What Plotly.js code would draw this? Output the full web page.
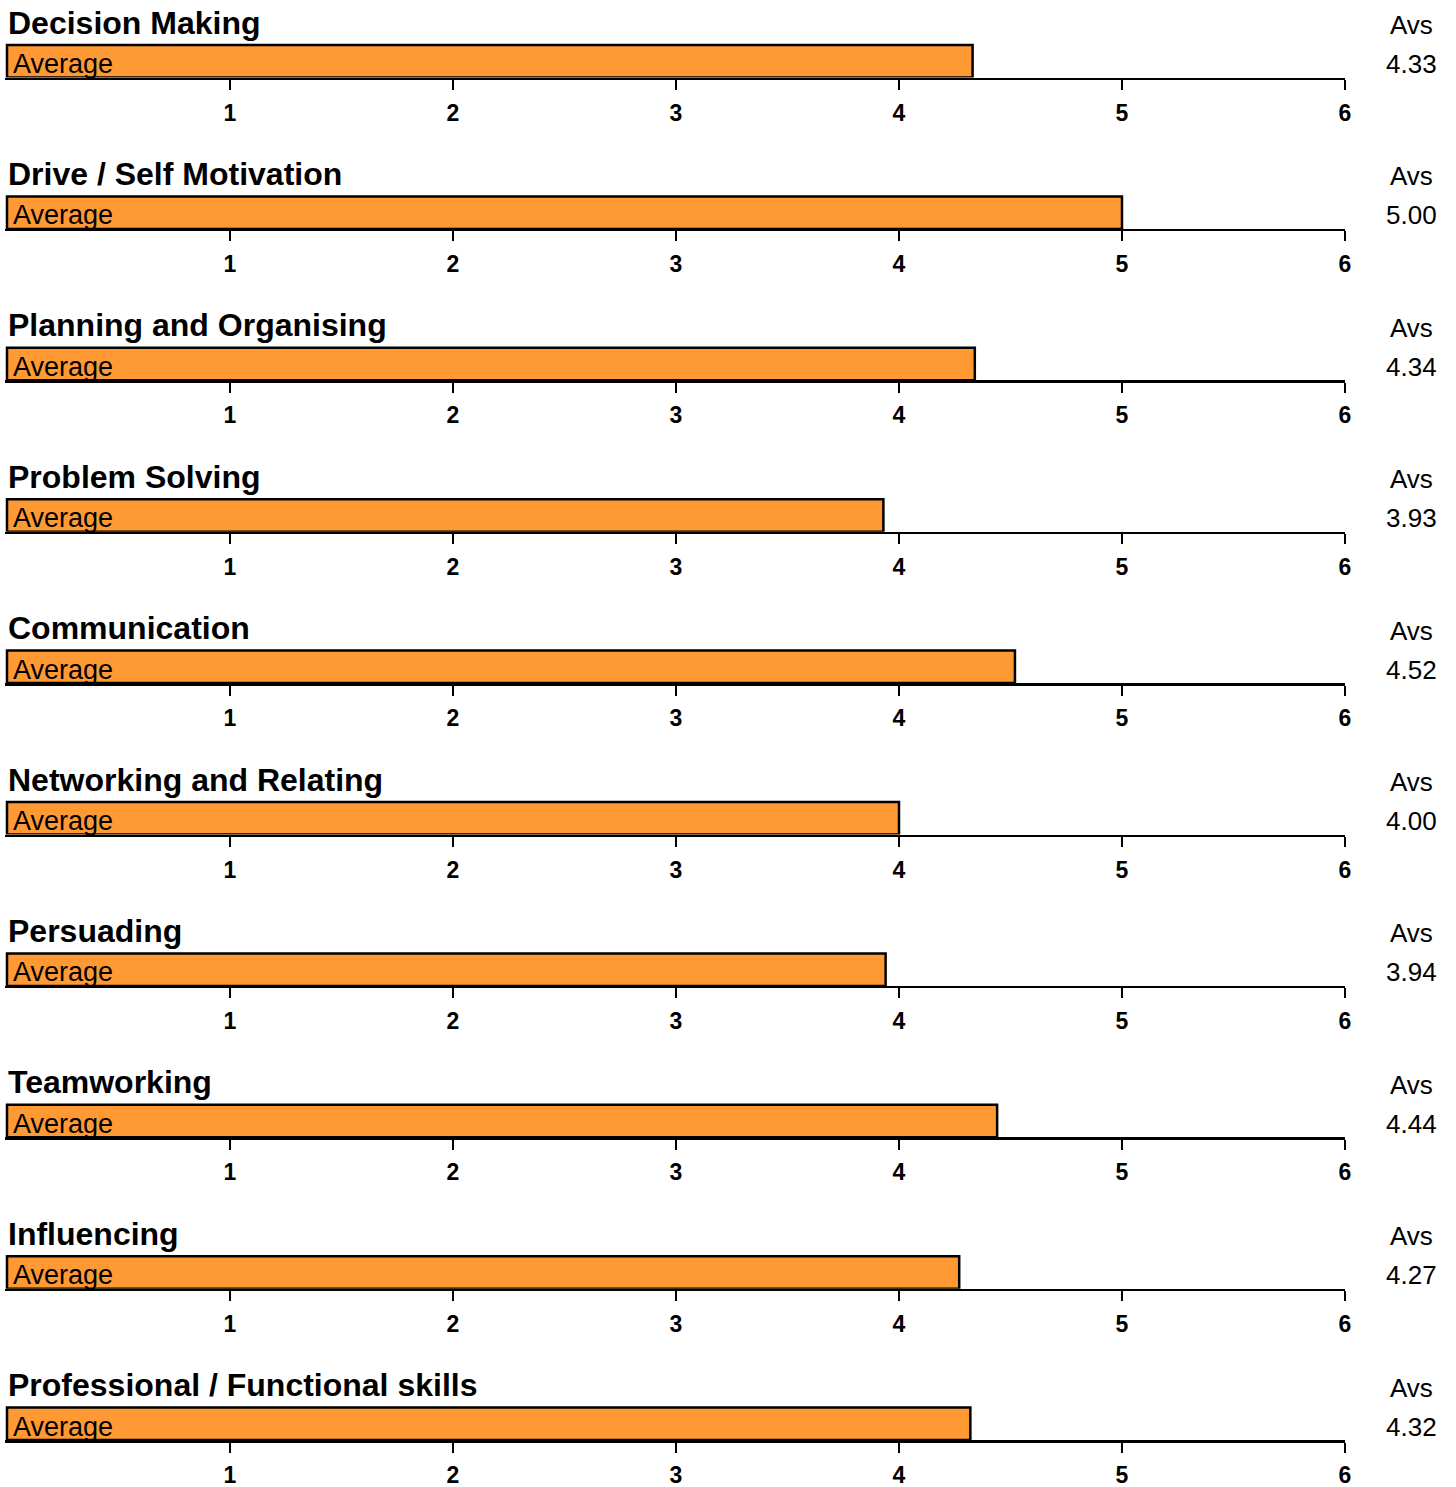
<!DOCTYPE html>
<html>
<head>
<meta charset="utf-8">
<script src="https://cdn.plot.ly/plotly-3.0.1.min.js"></script>
<style>html,body{margin:0;padding:0;background:#fff;}#chart{width:1456px;height:1487px;}</style>
</head>
<body>
<div id="chart"></div>
<script>
// ---- data ----
const categories = [
  "Decision Making",
  "Drive / Self Motivation",
  "Planning and Organising",
  "Problem Solving",
  "Communication",
  "Networking and Relating",
  "Persuading",
  "Teamworking",
  "Influencing",
  "Professional / Functional skills"
];
const averages = [4.33, 5.00, 4.34, 3.93, 4.52, 4.00, 3.94, 4.44, 4.27, 4.32];
const seriesName = "Average";
const valueHeader = "Avs";
const tickValues = [1, 2, 3, 4, 5, 6];
const tickLabels = ["1", "2", "3", "4", "5", "6"];

// ---- layout geometry ----
const W = 1456, H = 1487;
const L = 5, R = 111, T = 0, B = 0;
const plotW = W - L - R;
const pxPerUnit = 223;
const xMax = 6;
const xMin = xMax - plotW / pxPerUnit;
const panelStep = 151.4;
const barTop0 = 45, axisY0 = 77.5, domTop0 = 38;
const FONT = "'Liberation Sans', Arial, Helvetica, sans-serif";

const px = x => (x - L) / plotW;
const py = y => 1 - (y - T) / (H - T - B);

const traces = [];
const layout = {
  width: W, height: H,
  margin: {l: L, r: R, t: T, b: B, pad: 0},
  paper_bgcolor: "#ffffff",
  plot_bgcolor: "rgba(0,0,0,0)",
  showlegend: false,
  font: {family: FONT, color: "#000"},
  annotations: []
};

categories.forEach((cat, i) => {
  const n = i + 1;
  const sfx = n === 1 ? "" : String(n);
  const barTop = barTop0 + panelStep * i;
  const axisY = axisY0 + panelStep * i;
  const domTop = domTop0 + panelStep * i;
  const barH = axisY - barTop;
  const yTopVal = -0.5 + (axisY - domTop) / barH;

  traces.push({
    type: "bar",
    orientation: "h",
    name: seriesName,
    x: [averages[i]],
    y: [0],
    width: [1],
    base: 0,
    xaxis: "x" + sfx,
    yaxis: "y" + sfx,
    marker: {color: "#FF9933", line: {color: "#000", width: 2.5}},
    hoverinfo: "skip"
  });

  layout["xaxis" + sfx] = {
    anchor: "y" + sfx,
    domain: [0, 1],
    range: [xMin, xMax],
    showgrid: false,
    zeroline: false,
    showline: true,
    linecolor: "#000",
    linewidth: 2.5,
    ticks: "outside",
    ticklen: 10,
    tickwidth: 2.5,
    tickcolor: "#000",
    tickmode: "array",
    tickvals: tickValues,
    ticktext: tickLabels,
    ticklabelstandoff: 3,
    tickfont: {family: FONT, size: 23, color: "#000", weight: "bold"},
    fixedrange: true
  };
  layout["yaxis" + sfx] = {
    anchor: "x" + sfx,
    domain: [py(axisY), py(domTop)],
    range: [-0.5, yTopVal],
    visible: false,
    fixedrange: true
  };

  // panel title
  layout.annotations.push({
    xref: "paper", yref: "paper",
    x: px(5.5), y: py(barTop - 22.5),
    xanchor: "left", yanchor: "middle",
    text: cat, showarrow: false,
    font: {family: FONT, size: 32, color: "#000", weight: "bold"}
  });
  // series label in bar
  layout.annotations.push({
    xref: "paper", yref: "paper",
    x: px(11), y: py(barTop + 19),
    xanchor: "left", yanchor: "middle",
    text: seriesName, showarrow: false,
    font: {family: FONT, size: 27, color: "#000"}
  });
  // header on right
  layout.annotations.push({
    xref: "paper", yref: "paper",
    x: px(1411.5), y: py(barTop - 20),
    xanchor: "center", yanchor: "middle",
    text: valueHeader, showarrow: false,
    font: {family: FONT, size: 26, color: "#000"}
  });
  // value on right
  layout.annotations.push({
    xref: "paper", yref: "paper",
    x: px(1411.5), y: py(barTop + 19),
    xanchor: "center", yanchor: "middle",
    text: averages[i].toFixed(2), showarrow: false,
    font: {family: FONT, size: 26, color: "#000"}
  });
});

Plotly.newPlot("chart", traces, layout, {staticPlot: true, displayModeBar: false});
</script>
</body>
</html>
